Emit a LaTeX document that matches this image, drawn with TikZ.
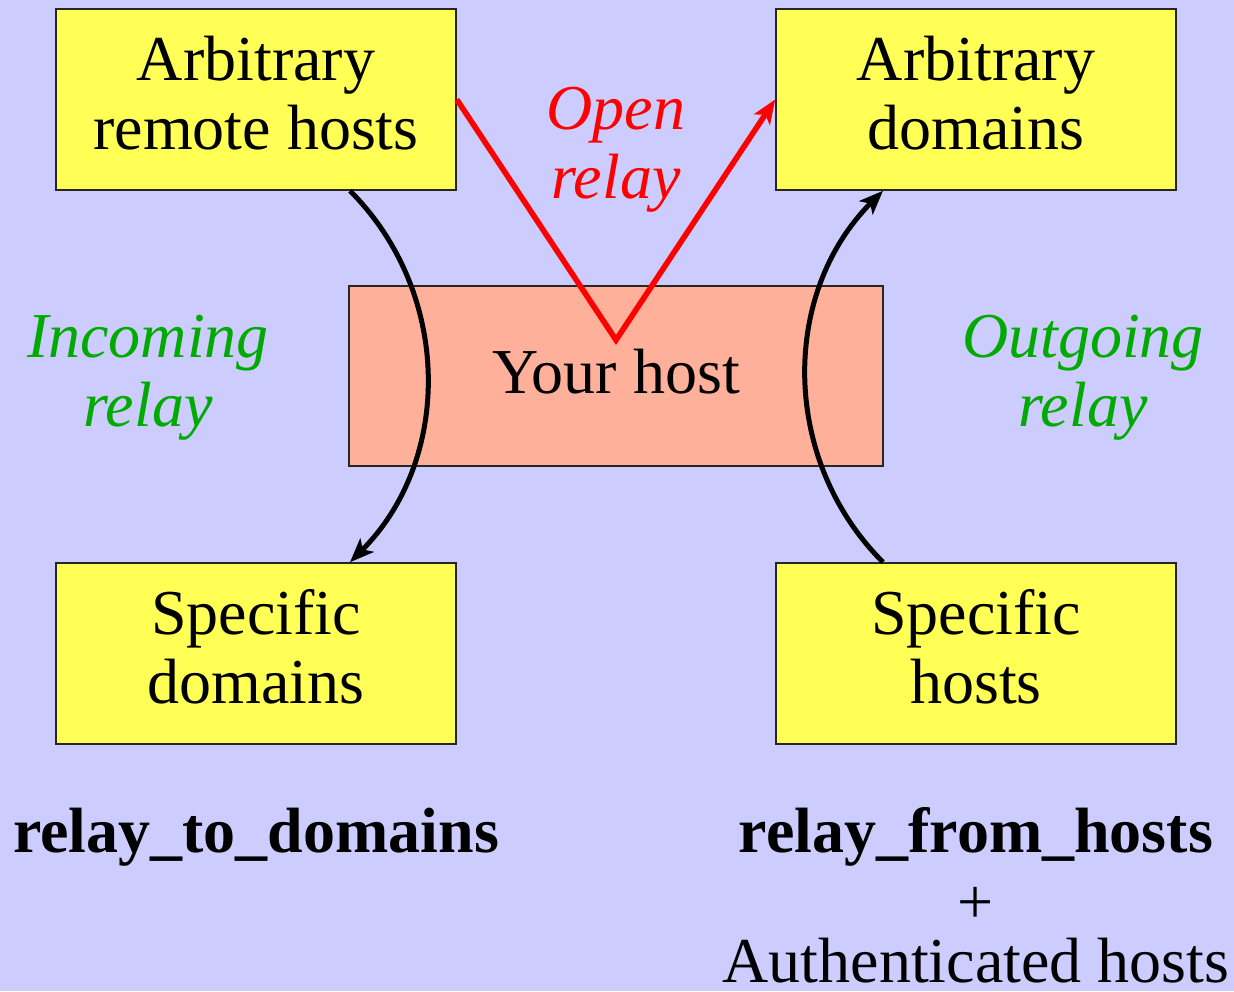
\documentclass[tikz,border=0pt]{standalone}
\usepackage{fontspec}
\setmainfont{Liberation Serif}
\usetikzlibrary{arrows.meta,calc}

\definecolor{bgblue}{RGB}{204,204,255}
\definecolor{boxyellow}{RGB}{255,255,85}
\definecolor{hostsalmon}{RGB}{255,176,154}
\definecolor{relaygreen}{RGB}{0,170,0}
\definecolor{relayred}{RGB}{255,0,0}

% invisible rule that fixes each line's height and depth (69pt pitch)
\newcommand\linestrut{\rule[-18.5pt]{0pt}{69pt}}

\begin{document}
\begin{tikzpicture}[x=1pt,y=1pt,
  every node/.style={font=\fontsize{64}{69}\selectfont, inner sep=0pt},
  yellowbox/.style={draw=black!85, line width=1.6pt, fill=boxyellow,
    minimum width=400pt, minimum height=181pt, align=center},
  hostbox/.style={draw=black!85, line width=1.6pt, fill=hostsalmon,
    minimum width=534pt, minimum height=180pt, align=center,
    text height=44pt, text depth=8pt},
  relaylabel/.style={align=center, font=\fontsize{64}{69}\selectfont\itshape},
  optionname/.style={anchor=base, font=\fontsize{64}{69}\selectfont\bfseries},
  flowarrow/.style={line width=5pt, -{Stealth[length=24pt,width=19pt,inset=6pt]}},
  openarrow/.style={relayred, line width=5.6pt, line join=miter,
    -{Stealth[length=24pt,width=19pt,inset=6pt]}}
]
% canvas
\fill[bgblue] (0,0) rectangle (1234,991);
\useasboundingbox (0,0) rectangle (1234,991);

% hosts and domains
\node[yellowbox] (A) at (256,891.5) {\linestrut Arbitrary\\\linestrut remote hosts};
\node[yellowbox] (B) at (976,891.5) {\linestrut Arbitrary\\\linestrut domains};
\node[hostbox]   (H) at (616,615)   {Your host};
\node[yellowbox] (C) at (256,337.5) {\linestrut Specific\\\linestrut domains};
\node[yellowbox] (D) at (976,337.5) {\linestrut Specific\\\linestrut hosts};

% open relay path through the host
\coordinate (V) at ([yshift=36pt]H.center);
\draw[openarrow] (A.east) -- (V) -- (B.west);

% incoming and outgoing relay arcs
\draw[flowarrow] ([xshift=94pt]A.south) to[bend left=45] ([xshift=94pt]C.north);
\draw[flowarrow] ([xshift=-93pt]D.north) to[bend left=45] ([xshift=-93pt]B.south);

% relay labels
\node[relaylabel, text=relayred]   (open) at (616,842.5)  {\linestrut Open\\\linestrut relay};
\node[relaylabel, text=relaygreen] (inc)  at (148,614.5)  {\linestrut Incoming\\\linestrut relay};
\node[relaylabel, text=relaygreen] (out)  at (1083,614.5) {\linestrut Outgoing\\\linestrut relay};

% configuration options
\node[optionname] (rtd)  at (256,139) {relay\_to\_domains};
\node[optionname] (rfh)  at (976,139) {relay\_from\_hosts};
\node             (plus) at (976,86)  {+};
\node[anchor=base] (auth) at (976,9)  {Authenticated hosts};
\end{tikzpicture}
\end{document}
